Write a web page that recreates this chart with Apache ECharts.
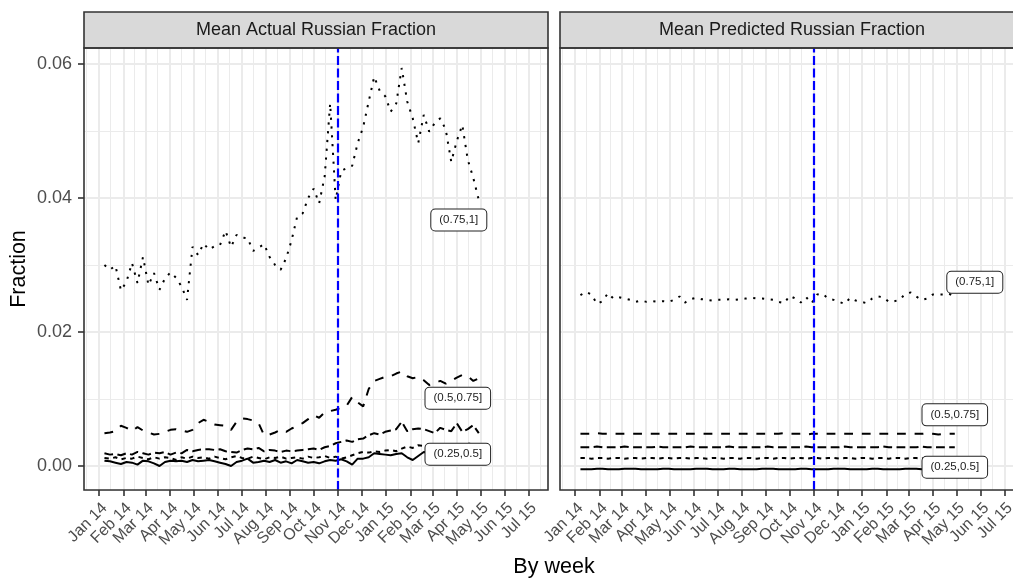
<!DOCTYPE html>
<html><head><meta charset="utf-8">
<script src="https://cdn.jsdelivr.net/npm/echarts@6/dist/echarts.min.js"></script>
<style>html,body{margin:0;padding:0;background:#fff}#c{width:1013px;height:584px}</style>
</head><body><div id="c"></div>
<script>
// ---------- data ----------
const weeks = [
 '2014-01-08','2014-01-15','2014-01-22','2014-01-29','2014-02-05','2014-02-12','2014-02-19','2014-02-26','2014-03-05','2014-03-12',
 '2014-03-19','2014-03-26','2014-04-02','2014-04-09','2014-04-16','2014-04-23','2014-04-30','2014-05-07','2014-05-14','2014-05-21',
 '2014-05-28','2014-06-04','2014-06-11','2014-06-18','2014-06-25','2014-07-02','2014-07-09','2014-07-16','2014-07-23','2014-07-30',
 '2014-08-06','2014-08-13','2014-08-20','2014-08-27','2014-09-03','2014-09-10','2014-09-17','2014-09-24','2014-10-01','2014-10-08',
 '2014-10-15','2014-10-22','2014-10-29','2014-11-05','2014-11-12','2014-11-19','2014-11-26','2014-12-03','2014-12-10','2014-12-17',
 '2014-12-24','2014-12-31','2015-01-07','2015-01-14','2015-01-21','2015-01-28','2015-02-04','2015-02-11','2015-02-18','2015-02-25',
 '2015-03-04','2015-03-11','2015-03-18','2015-03-25','2015-04-01','2015-04-08','2015-04-15','2015-04-22','2015-04-29'];

const tickDates = ['2014-01-01','2014-02-01','2014-03-01','2014-04-01','2014-05-01','2014-06-01','2014-07-01','2014-08-01','2014-09-01','2014-10-01',
 '2014-11-01','2014-12-01','2015-01-01','2015-02-01','2015-03-01','2015-04-01','2015-05-01','2015-06-01','2015-07-01'];
const tickLabels = ['Jan 14','Feb 14','Mar 14','Apr 14','May 14','Jun 14','Jul 14','Aug 14','Sep 14','Oct 14',
 'Nov 14','Dec 14','Jan 15','Feb 15','Mar 15','Apr 15','May 15','Jun 15','Jul 15'];
const yTicks = [0, 0.02, 0.04, 0.06];
const cutDate = '2014-11-01';
const panelTitles = ['Mean Actual Russian Fraction', 'Mean Predicted Russian Fraction'];

// Mean Actual Russian Fraction, by level (1 = lowest line ... 5 = top dotted)
const actualL1 = [
 0.0008,0.0007,0.0005,0.0003,0.0006,0.0005,0.0002,0.0008,0.0007,0.0004,
 0.0000,0.0006,0.0008,0.0007,0.0008,0.0006,0.0009,0.0007,0.0008,0.0009,
 0.0007,0.0005,0.0003,0.0000,0.0006,0.0008,0.0011,0.0005,0.0006,0.0008,
 0.0006,0.0009,0.0005,0.0007,0.0004,0.0009,0.0007,0.0005,0.0006,0.0004,
 0.0007,0.0009,0.0008,0.0010,0.0007,0.0002,0.0011,0.0011,0.0013,0.0019,
 0.0018,0.0017,0.0016,0.0018,0.0019,0.0013,0.0009,0.0015,0.0021,0.0020,
 0.0019,0.0022,0.0020,0.0023,0.0021,0.0019,0.0022,0.0021,0.0020];
const actualL2 = [
 0.0012,0.0011,0.0013,0.0010,0.0012,0.0011,0.0014,0.0012,0.0010,0.0013,
 0.0011,0.0013,0.0012,0.0009,0.0013,0.0011,0.0014,0.0012,0.0013,0.0011,
 0.0014,0.0012,0.0010,0.0013,0.0015,0.0012,0.0011,0.0014,0.0012,0.0010,
 0.0013,0.0012,0.0014,0.0011,0.0012,0.0013,0.0011,0.0014,0.0012,0.0013,
 0.0015,0.0012,0.0014,0.0011,0.0013,0.0016,0.0019,0.0021,0.0020,0.0022,
 0.0021,0.0023,0.0024,0.0022,0.0026,0.0029,0.0027,0.0031,0.0030,0.0028,
 0.0031,0.0029,0.0032,0.0030,0.0033,0.0031,0.0034,0.0032,0.0033];
const actualL3 = [
 0.0019,0.0017,0.0018,0.0016,0.0019,0.0017,0.0021,0.0019,0.0017,0.0020,
 0.0019,0.0021,0.0017,0.0020,0.0019,0.0024,0.0022,0.0024,0.0025,0.0025,
 0.0024,0.0025,0.0022,0.0021,0.0020,0.0024,0.0026,0.0025,0.0027,0.0022,
 0.0024,0.0023,0.0021,0.0023,0.0022,0.0023,0.0024,0.0025,0.0026,0.0024,
 0.0028,0.0030,0.0034,0.0036,0.0038,0.0036,0.0040,0.0041,0.0046,0.0049,
 0.0047,0.0051,0.0053,0.0055,0.0066,0.0052,0.0055,0.0056,0.0055,0.0052,
 0.0049,0.0057,0.0054,0.0052,0.0064,0.0051,0.0055,0.0061,0.0049];
const actualL4 = [
 0.0049,0.0050,0.0052,0.0060,0.0057,0.0052,0.0058,0.0053,0.0050,0.0047,
 0.0048,0.0051,0.0054,0.0055,0.0053,0.0051,0.0054,0.0064,0.0069,0.0066,
 0.0062,0.0061,0.0060,0.0054,0.0066,0.0071,0.0070,0.0068,0.0064,0.0046,
 0.0047,0.0050,0.0054,0.0051,0.0056,0.0060,0.0064,0.0070,0.0076,0.0072,
 0.0080,0.0082,0.0084,0.0087,0.0090,0.0103,0.0095,0.0089,0.0115,0.0127,
 0.0130,0.0133,0.0134,0.0138,0.0141,0.0134,0.0131,0.0133,0.0128,0.0121,
 0.0124,0.0127,0.0123,0.0127,0.0132,0.0136,0.0134,0.0127,0.0131];
const actualL5 = [
 0.0300,0.0293,0.0299,0.0262,0.0275,0.0303,0.0273,0.0312,0.0270,0.0288,
 0.0263,0.0280,0.0289,0.0281,0.0268,0.0248,0.0327,0.0315,0.0332,0.0323,
 0.0328,0.0330,0.0351,0.0327,0.0345,0.0341,0.0340,0.0321,0.0326,0.0331,
 0.0312,0.0300,0.0293,0.0310,0.0337,0.0372,0.0377,0.0400,0.0414,0.0392,
 0.0432,0.0541,0.0397,0.0440,0.0445,0.0448,0.0482,0.0506,0.0544,0.0581,
 0.0560,0.0552,0.0529,0.0541,0.0594,0.0544,0.0519,0.0482,0.0524,0.0499,
 0.0512,0.0519,0.0502,0.0454,0.0485,0.0509,0.0457,0.0430,0.0397];

// Mean Predicted Russian Fraction, by level
const predL1 = [
 -0.0005,-0.0005,-0.0005,-0.0004,-0.0004,-0.0005,-0.0005,-0.0005,-0.0004,-0.0004,
 -0.0004,-0.0005,-0.0005,-0.0005,-0.0005,-0.0004,-0.0004,-0.0005,-0.0005,-0.0005,
 -0.0005,-0.0004,-0.0004,-0.0004,-0.0005,-0.0005,-0.0005,-0.0004,-0.0004,-0.0005,
 -0.0005,-0.0005,-0.0005,-0.0004,-0.0004,-0.0004,-0.0005,-0.0005,-0.0005,-0.0005,
 -0.0004,-0.0004,-0.0005,-0.0005,-0.0005,-0.0005,-0.0004,-0.0004,-0.0004,-0.0005,
 -0.0005,-0.0005,-0.0005,-0.0004,-0.0004,-0.0005,-0.0005,-0.0005,-0.0005,-0.0004,
 -0.0004,-0.0004,-0.0005,-0.0005,-0.0005,-0.0005,-0.0004,-0.0004,-0.0005];
const predL2 = [
 0.0012,0.0012,0.0011,0.0012,0.0012,0.0011,0.0012,0.0012,0.0011,0.0012,
 0.0012,0.0011,0.0012,0.0012,0.0011,0.0012,0.0012,0.0011,0.0012,0.0012,
 0.0011,0.0012,0.0012,0.0011,0.0012,0.0012,0.0011,0.0012,0.0012,0.0011,
 0.0012,0.0012,0.0011,0.0012,0.0012,0.0011,0.0012,0.0012,0.0011,0.0012,
 0.0012,0.0011,0.0012,0.0012,0.0011,0.0012,0.0012,0.0011,0.0012,0.0012,
 0.0011,0.0012,0.0012,0.0011,0.0012,0.0012,0.0011,0.0012,0.0012,0.0011,
 0.0012,0.0012,0.0011,0.0012,0.0012,0.0011,0.0012,0.0012,0.0011];
const predL3 = [
 0.0028,0.0028,0.0028,0.0029,0.0028,0.0028,0.0028,0.0028,0.0029,0.0028,
 0.0028,0.0028,0.0028,0.0028,0.0029,0.0028,0.0028,0.0028,0.0028,0.0028,
 0.0029,0.0028,0.0028,0.0028,0.0028,0.0028,0.0028,0.0029,0.0028,0.0028,
 0.0028,0.0028,0.0028,0.0028,0.0029,0.0028,0.0028,0.0028,0.0028,0.0028,
 0.0028,0.0029,0.0028,0.0028,0.0028,0.0028,0.0028,0.0028,0.0029,0.0028,
 0.0028,0.0028,0.0028,0.0028,0.0028,0.0029,0.0028,0.0028,0.0028,0.0028,
 0.0028,0.0028,0.0029,0.0028,0.0028,0.0028,0.0028,0.0028,0.0028];
const predL4 = [
 0.0048,0.0048,0.0048,0.0049,0.0048,0.0048,0.0048,0.0048,0.0048,0.0048,
 0.0048,0.0048,0.0048,0.0048,0.0048,0.0048,0.0048,0.0048,0.0048,0.0048,
 0.0048,0.0048,0.0048,0.0048,0.0048,0.0048,0.0048,0.0048,0.0048,0.0048,
 0.0048,0.0048,0.0048,0.0048,0.0048,0.0048,0.0048,0.0049,0.0048,0.0048,
 0.0048,0.0047,0.0048,0.0048,0.0048,0.0048,0.0048,0.0048,0.0048,0.0048,
 0.0048,0.0048,0.0048,0.0048,0.0048,0.0048,0.0048,0.0048,0.0048,0.0048,
 0.0048,0.0048,0.0048,0.0049,0.0048,0.0047,0.0048,0.0048,0.0048];
const predL5 = [
 0.0255,0.0260,0.0256,0.0242,0.0246,0.0258,0.0250,0.0252,0.0250,0.0248,
 0.0245,0.0247,0.0245,0.0246,0.0245,0.0246,0.0245,0.0248,0.0253,0.0244,
 0.0249,0.0251,0.0249,0.0248,0.0247,0.0248,0.0248,0.0249,0.0248,0.0249,
 0.0250,0.0251,0.0250,0.0250,0.0249,0.0248,0.0245,0.0243,0.0254,0.0250,
 0.0244,0.0252,0.0243,0.0256,0.0257,0.0250,0.0248,0.0245,0.0242,0.0251,
 0.0247,0.0245,0.0243,0.0250,0.0253,0.0252,0.0245,0.0246,0.0248,0.0257,
 0.0259,0.0253,0.0248,0.0250,0.0256,0.0256,0.0256,0.0257,0.0252];

const levelLabels = ['', '', '(0.25,0.5]', '(0.5,0.75]', '(0.75,1]'];
const actualSeries = [actualL1, actualL2, actualL3, actualL4, actualL5];
const predSeries = [predL1, predL2, predL3, predL4, predL5];

// ---------- layout / style ----------
const FONT = '"Liberation Sans", Arial, Helvetica, sans-serif';
const PANEL_LEFT = [84, 560], PW = 464, PT = 48, PH = 442, STRIP_H = 36;
const Y_MIN = -0.00358, Y_MAX = 0.06239;
const dashes = ['solid', [4.4, 4.4], [8.8, 4.4], [8.8, 8.8], [2.2, 6.6]];
// label offsets (px) relative to each line's last point, per panel
const labelOffsets = [
  {2: [-21, 21], 3: [-21, 20], 4: [-20, 20]},
  {2: [0, 20], 3: [0, -19], 4: [20, -15]}
];

const DAY = 86400000;
const axisStart = Date.UTC(2013, 11, 13);
const axisDays = 591;
const dayCats = [];
for (let i = 0; i < axisDays; i++) dayCats.push(new Date(axisStart + i * DAY).toISOString().slice(0, 10));
const tickSet = new Set(tickDates);
const minorSet = new Set();
for (let k = 0; k < 20; k++) {
  const a = Date.UTC(2013, 11 + k, 1), b = Date.UTC(2013, 12 + k, 1);
  const idx = Math.floor(((a + b) / 2 - axisStart) / DAY);
  if (idx >= 0 && idx < axisDays) minorSet.add(dayCats[idx]);
}

const grids = [], xAxes = [], yAxes = [], series = [], graphics = [];
[0, 1].forEach(p => {
  grids.push({left: PANEL_LEFT[p], top: PT, width: PW, height: PH, show: false, containLabel: false, outerBoundsMode: 'none'});
  xAxes.push({
    type: 'category', gridIndex: p, data: dayCats, boundaryGap: false, position: 'bottom',
    axisLine: {show: false, onZero: false},
    axisTick: {show: true, interval: (i, v) => tickSet.has(v), length: 6, lineStyle: {color: '#333333', width: 1.6}},
    axisLabel: {show: true, interval: (i, v) => tickSet.has(v), formatter: v => tickLabels[tickDates.indexOf(v)],
      rotate: 45, align: 'right', verticalAlign: 'top', margin: 10, fontSize: 16, color: '#4D4D4D', fontFamily: FONT, hideOverlap: false},
    splitLine: {show: true, interval: (i, v) => tickSet.has(v), lineStyle: {color: '#EBEBEB', width: 2}}
  });
  xAxes.push({
    type: 'category', gridIndex: p, data: dayCats, boundaryGap: false, position: 'bottom',
    axisLine: {show: false, onZero: false}, axisTick: {show: false}, axisLabel: {show: false},
    splitLine: {show: true, interval: (i, v) => minorSet.has(v), lineStyle: {color: '#EBEBEB', width: 1}}
  });
  yAxes.push({
    type: 'value', gridIndex: p, min: Y_MIN, max: Y_MAX, splitNumber: 3, minInterval: 0.02, maxInterval: 0.02,
    axisLine: {show: false, onZero: false},
    axisTick: {show: p === 0, customValues: yTicks, length: 6, lineStyle: {color: '#333333', width: 1.6}},
    axisLabel: {show: p === 0, customValues: yTicks,
      formatter: v => v.toFixed(2), margin: 12, fontSize: 18, color: '#4D4D4D', fontFamily: FONT},
    splitLine: {show: true, lineStyle: {color: '#EBEBEB', width: 2}}
  });
  yAxes.push({
    type: 'value', gridIndex: p, min: Y_MIN, max: Y_MAX, splitNumber: 6, minInterval: 0.01, maxInterval: 0.01,
    axisLine: {show: false, onZero: false}, axisTick: {show: false}, axisLabel: {show: false},
    splitLine: {show: true, lineStyle: {color: '#EBEBEB', width: 1}}
  });

  const sets = p === 0 ? actualSeries : predSeries;
  sets.forEach((vals, j) => {
    const s = {
      type: 'line', xAxisIndex: 2 * p, yAxisIndex: 2 * p, silent: true, animation: false,
      showSymbol: false, symbol: 'none', z: 3,
      lineStyle: {color: '#000000', width: 2, type: dashes[j], cap: 'butt'},
      data: weeks.map((w, i) => [w, vals[i]])
    };
    if (levelLabels[j] && labelOffsets[p][j]) {
      const last = weeks.length - 1;
      s.markPoint = {
        silent: true, animation: false, symbol: 'circle', symbolSize: 1, itemStyle: {color: 'rgba(0,0,0,0)'}, z: 6,
        data: [{coord: [weeks[last], vals[last]]}],
        label: {show: true, formatter: levelLabels[j], position: 'inside', offset: labelOffsets[p][j],
          backgroundColor: '#FFFFFF', borderColor: '#222222', borderWidth: 1, borderRadius: 4,
          padding: [5, 8, 4, 8], fontSize: 11.5, color: '#222222', fontFamily: FONT}
      };
    }
    if (j === 4) {
      s.markLine = {
        silent: true, animation: false, symbol: ['none', 'none'], label: {show: false}, z: 5,
        lineStyle: {color: '#0000FF', width: 2.2, type: [9, 3.5]},
        data: [{xAxis: cutDate}]
      };
    }
    series.push(s);
  });

  const L = PANEL_LEFT[p];
  graphics.push({type: 'rect', z: 100, shape: {x: L, y: PT - STRIP_H, width: PW, height: STRIP_H},
    style: {fill: '#D9D9D9', stroke: '#333333', lineWidth: 1.6}});
  graphics.push({type: 'text', z: 101, x: L + PW / 2, y: PT - STRIP_H / 2,
    style: {text: panelTitles[p], textAlign: 'center', textVerticalAlign: 'middle', font: '18px ' + FONT, fill: '#1A1A1A'}});
  graphics.push({type: 'rect', z: 100, shape: {x: L, y: PT, width: PW, height: PH},
    style: {fill: 'none', stroke: '#333333', lineWidth: 1.6}});
});

graphics.push({type: 'text', z: 101, x: 554, y: 567,
  style: {text: 'By week', textAlign: 'center', textVerticalAlign: 'middle', font: '21.5px ' + FONT, fill: '#000000'}});
graphics.push({type: 'text', z: 101, x: 19, y: PT + PH / 2, rotation: Math.PI / 2,
  style: {text: 'Fraction', textAlign: 'center', textVerticalAlign: 'middle', font: '21.5px ' + FONT, fill: '#000000'}});

const chart = echarts.init(document.getElementById('c'), null, {renderer: 'canvas'});
chart.setOption({
  animation: false,
  backgroundColor: '#FFFFFF',
  grid: grids, xAxis: xAxes, yAxis: yAxes, series: series,
  graphic: {elements: graphics}
});
</script></body></html>
